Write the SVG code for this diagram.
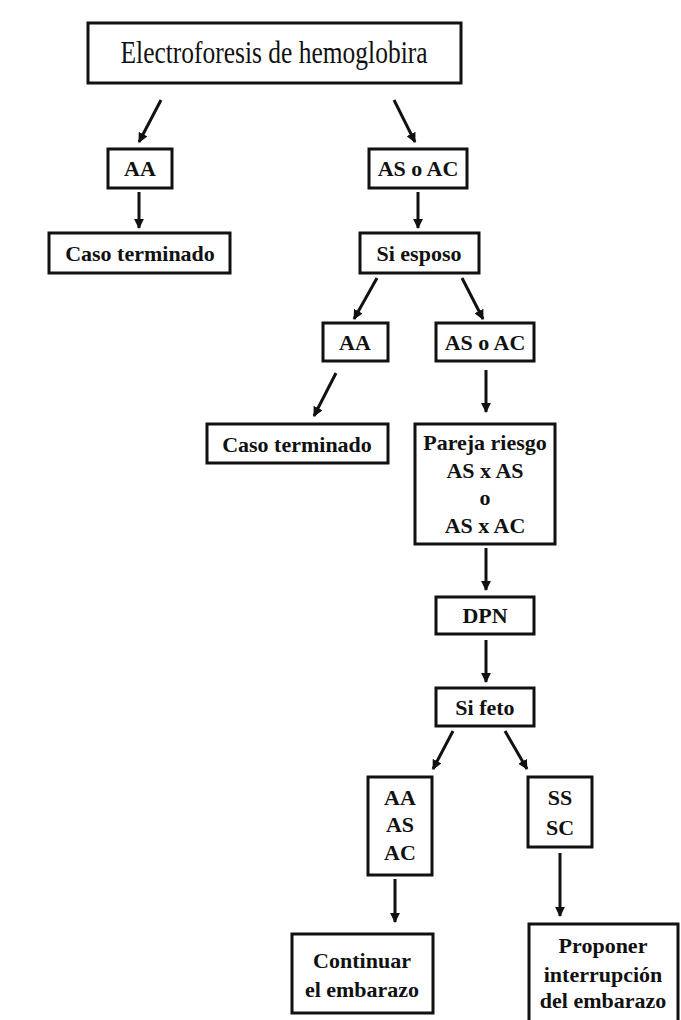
<svg xmlns="http://www.w3.org/2000/svg" width="681" height="1020" viewBox="0 0 681 1020">
<style>
.box{fill:#fff;stroke:#111;stroke-width:3}
.t{font-family:"Liberation Serif",serif;font-weight:bold;font-size:22px;fill:#111;text-anchor:middle}
.title{font-family:"Liberation Serif",serif;font-size:31px;fill:#111;text-anchor:middle}
.c{stroke:#111;stroke-width:3;fill:none;marker-end:url(#ah)}
</style>
<defs>
<marker id="ah" viewBox="0 0 10 10" refX="9" refY="5" markerWidth="3.3" markerHeight="3.3" orient="auto" markerUnits="strokeWidth">
<path d="M0,0 L10,5 L0,10 z" fill="#111"/>
</marker>
</defs>
<rect width="681" height="1020" fill="#fff"/>
<g id="connectors">
<line class="c" x1="161" y1="100" x2="139" y2="142"/>
<line class="c" x1="394" y1="100" x2="415" y2="142"/>
<line class="c" x1="139" y1="192" x2="139" y2="228"/>
<line class="c" x1="418" y1="192" x2="418" y2="228"/>
<line class="c" x1="377" y1="278" x2="354" y2="319"/>
<line class="c" x1="462" y1="278" x2="483" y2="319"/>
<line class="c" x1="336" y1="373" x2="314" y2="416"/>
<line class="c" x1="486" y1="370" x2="486" y2="412"/>
<line class="c" x1="486" y1="548" x2="486" y2="590"/>
<line class="c" x1="486" y1="640" x2="486" y2="682"/>
<line class="c" x1="453" y1="731" x2="433" y2="769"/>
<line class="c" x1="505" y1="731" x2="527" y2="769"/>
<line class="c" x1="395" y1="879" x2="395" y2="922"/>
<line class="c" x1="560" y1="853" x2="560" y2="916"/>
</g>
<g id="n1"><rect class="box" x="88" y="23" width="373" height="60"/><text class="title" x="274" y="63" textLength="307" lengthAdjust="spacingAndGlyphs">Electroforesis de hemoglobira</text></g>
<g id="n2"><rect class="box" x="108" y="149" width="64" height="39"/><text class="t" x="140" y="176">AA</text></g>
<g id="n3"><rect class="box" x="49" y="233" width="181" height="40"/><text class="t" x="140" y="261">Caso terminado</text></g>
<g id="n4"><rect class="box" x="369" y="149" width="98" height="39"/><text class="t" x="418" y="176">AS o AC</text></g>
<g id="n5"><rect class="box" x="360" y="233" width="119" height="40"/><text class="t" x="419" y="261">Si esposo</text></g>
<g id="n6"><rect class="box" x="323" y="323" width="65" height="38"/><text class="t" x="355" y="350">AA</text></g>
<g id="n7"><rect class="box" x="436" y="323" width="98" height="38"/><text class="t" x="485" y="350">AS o AC</text></g>
<g id="n8"><rect class="box" x="207" y="424" width="181" height="39"/><text class="t" x="297" y="452">Caso terminado</text></g>
<g id="n9"><rect class="box" x="415" y="424" width="140" height="120"/>
<text class="t" x="485" y="450">Pareja riesgo</text><text class="t" x="485" y="478">AS x AS</text><text class="t" x="485" y="505">o</text><text class="t" x="485" y="533">AS x AC</text></g>
<g id="n10"><rect class="box" x="436" y="597" width="98" height="37"/><text class="t" x="485" y="623">DPN</text></g>
<g id="n11"><rect class="box" x="436" y="688" width="98" height="38"/><text class="t" x="485" y="715">Si feto</text></g>
<g id="n12"><rect class="box" x="368" y="777" width="64" height="98"/>
<text class="t" x="400" y="805">AA</text><text class="t" x="400" y="832">AS</text><text class="t" x="400" y="860">AC</text></g>
<g id="n13"><rect class="box" x="528" y="777" width="64" height="70"/>
<text class="t" x="560" y="805">SS</text><text class="t" x="560" y="835">SC</text></g>
<g id="n14"><rect class="box" x="292" y="934" width="141" height="79"/>
<text class="t" x="362" y="968">Continuar</text><text class="t" x="362" y="997">el embarazo</text></g>
<g id="n15"><rect class="box" x="529" y="924" width="149" height="110"/>
<text class="t" x="603" y="953">Proponer</text><text class="t" x="603" y="982">interrupción</text><text class="t" x="603" y="1008">del embarazo</text></g>
</svg>
